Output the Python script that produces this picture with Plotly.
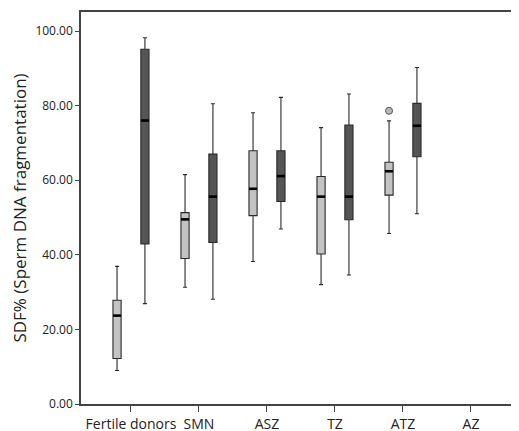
import plotly.graph_objects as go

categories = ["Fertile donors", "SMN", "ASZ", "TZ", "ATZ", "AZ"]

# light (first) series: stats per category (AZ empty)
light_lower = [9.0, 31.3, 38.2, 32.0, 45.7]
light_q1 = [12.2, 39.0, 50.5, 40.2, 56.0]
light_median = [23.7, 49.5, 57.7, 55.6, 62.4]
light_q3 = [27.8, 51.3, 67.9, 61.0, 64.8]
light_upper = [36.9, 61.5, 78.1, 74.1, 75.9]

# dark (second) series
dark_lower = [26.9, 28.1, 46.9, 34.6, 51.0]
dark_q1 = [42.9, 43.3, 54.3, 49.4, 66.3]
dark_median = [76.0, 55.6, 61.1, 55.6, 74.6]
dark_q3 = [95.1, 67.0, 67.9, 74.8, 80.6]
dark_upper = [98.2, 80.5, 82.2, 83.1, 90.2]

# outlier (ATZ light)
outlier_cat = [4]
outlier_val = [78.6]

yticks = [0, 20, 40, 60, 80, 100]

offset = 0.205
bw = 0.12
idx = list(range(len(light_q1)))
xl = [i - offset for i in idx]
xd = [i + offset for i in idx]

fig = go.Figure()
for xs, lo, q1, me, q3, up, fill in [
    (xl, light_lower, light_q1, light_median, light_q3, light_upper, "#c3c3c3"),
    (xd, dark_lower, dark_q1, dark_median, dark_q3, dark_upper, "#555555"),
]:
    fig.add_trace(go.Box(
        x=xs, q1=q1, median=me, q3=q3, lowerfence=lo, upperfence=up,
        width=bw, whiskerwidth=0.5, fillcolor=fill,
        line=dict(color="#2a2a2a", width=1.1), boxpoints=False,
        showlegend=False, hoverinfo="skip",
    ))
    fig.add_trace(go.Scatter(
        x=xs, y=me, mode="markers",
        marker=dict(symbol="line-ew", size=5.8, color="black",
                    line=dict(color="black", width=2.6)),
        showlegend=False, hoverinfo="skip",
    ))

fig.add_trace(go.Scatter(
    x=[outlier_cat[0] - offset], y=outlier_val, mode="markers",
    marker=dict(symbol="circle", size=7, color="#b8b8b8",
                line=dict(color="#555555", width=1)),
    showlegend=False, hoverinfo="skip",
))

# page body has an 8px margin, so margins are offset to compensate
fig.update_layout(
    width=519, height=431,
    margin=dict(l=73, r=8, t=4, b=35),
    paper_bgcolor="white", plot_bgcolor="white",
    font=dict(family="Open Sans", color="#222222"),
)
fig.update_xaxes(
    range=[-0.735, 5.706], tickvals=list(range(len(categories))), ticktext=categories,
    showline=True, linecolor="#444444", linewidth=1.5, mirror=True,
    ticks="outside", ticklen=6, tickcolor="#444444", tickwidth=1.2,
    showgrid=False, zeroline=False, tickfont=dict(size=14, color="#222222"),
    automargin=False,
)
fig.update_yaxes(
    range=[0, 105.1], tickvals=yticks, tickformat=".2f",
    showline=True, linecolor="#444444", linewidth=1.5, mirror=False,
    ticks="outside", ticklen=4, tickcolor="#444444", tickwidth=1.2,
    showgrid=False, zeroline=False, tickfont=dict(size=12, color="#222222"),
    title=dict(text="SDF% (Sperm DNA fragmentation)", font=dict(size=17, color="#222222"), standoff=5),
    automargin=False,
)

fig.write_html("out.html")
